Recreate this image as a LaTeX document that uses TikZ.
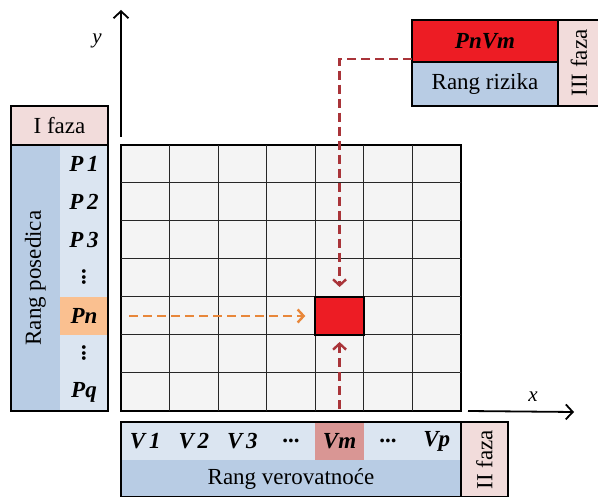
\documentclass[tikz,border=0pt]{standalone}
\usepackage{fontspec}
\setmainfont{Liberation Serif}
\usetikzlibrary{arrows.meta, positioning, calc}
\definecolor{fazapink}{HTML}{F2DCDB}
\definecolor{rangdark}{HTML}{B8CCE4}
\definecolor{ranglight}{HTML}{DBE5F1}
\definecolor{riskred}{HTML}{ED1C24}
\definecolor{pnorange}{HTML}{FAC090}
\definecolor{vmsalmon}{HTML}{D99694}
\definecolor{cellgray}{HTML}{F4F4F4}
\definecolor{dashred}{HTML}{A93439}
\definecolor{dashorange}{HTML}{E8873A}
\newcommand{\labelfont}{\fontsize{23}{26}\selectfont}
\tikzset{
  fazabox/.style={draw, line width=1.8pt, fill=fazapink, inner sep=0pt, outer sep=0pt, font=\labelfont},
  rangbox/.style={inner sep=0pt, outer sep=0pt, font=\labelfont},
  rangcell/.style={inner sep=0pt, outer sep=0pt, font=\labelfont\bfseries\itshape,
    minimum width=48.6pt, minimum height=38pt},
  gridline/.style={line width=1pt, black!85},
  axisarrow/.style={-{Straight Barb[length=7pt, width=15pt]}, line width=1.8pt},
  dasharrow/.style={-{Straight Barb[length=6pt, width=13pt]}, line width=2.4pt, dash pattern=on 9pt off 5pt},
  axislabel/.style={font=\fontsize{21}{23}\selectfont\itshape},
}
\newcommand{\vdotsb}{\rotatebox{-90}{\bfseries ...}}
\newcommand{\hdotsb}{\bfseries\upshape ...}

\begin{document}
\begin{tikzpicture}[x=1pt, y=-1pt]
  \useasboundingbox (0,0) rectangle (598,497);
  \clip (0,0) rectangle (598,497);

  % === Matrix ===
  \node[draw, line width=1.8pt, fill=cellgray, inner sep=0pt, outer sep=0pt,
    minimum width=340pt, minimum height=266pt] (grid) at (291,278) {};
  \foreach \i in {1,...,6} {
    \draw[gridline] (121+\i*48.57,145) -- (121+\i*48.57,411);
    \draw[gridline] (121,145+\i*38) -- (461,145+\i*38);
  }
  \node[draw, line width=1.8pt, fill=riskred, rangcell] (riskcell) at (339.6,316) {};

  % === Axes ===
  \coordinate (ytip) at (121,10);
  \coordinate (xtip) at (574,412);
  \draw[axisarrow] ([yshift=8pt]grid.north west) -- (ytip);
  \draw[axisarrow] ([xshift=7pt]grid.south east) -- (xtip);
  \node[axislabel] (ylabel) at (97,41) {y};
  \node[axislabel] (xlabel) at (533,397) {x};

  % === I faza ===
  \node[fazabox, minimum width=97pt, minimum height=39pt] (ifaza) at (59.5,125.5) {I faza};
  \node[rangbox, fill=ranglight, minimum width=97pt, minimum height=266pt] (posedica) at (59.5,278) {};
  \node[rangbox, fill=rangdark, rotate=90, minimum width=266pt, minimum height=49pt] (rangpos) at (35.5,278) {Rang posedica};
  \node[rangcell] (p1) at (84,164) {P\,1};
  \node[rangcell] (p2) at (84,202) {P\,2};
  \node[rangcell] (p3) at (84,240) {P\,3};
  \node[rangcell] (pdots1) at (84,278) {\vdotsb};
  \node[rangcell, fill=pnorange] (pn) at (84,316) {Pn};
  \node[rangcell] (pdots2) at (84,354) {\vdotsb};
  \node[rangcell] (pq) at (84,392) {Pq};
  \draw[line width=1.8pt] (posedica.north west) rectangle (posedica.south east);

  % === II faza ===
  \node[rangbox, fill=ranglight, minimum width=340pt, minimum height=38pt] (vrow) at (291,441) {};
  \node[rangbox, fill=rangdark, minimum width=340pt, minimum height=37pt] (verovatnoce) at (291,478.5) {Rang verovatnoće};
  \node[rangcell, fill=vmsalmon] at (339.6,441) {};
  \foreach \name/\txt [count=\k] in {v1/V\,1, v2/V\,2, v3/V\,3, vdots1/\hdotsb, vm/Vm, vdots2/\hdotsb, vp/Vp} {
    \node[rangcell] (\name) at (96.7+\k*48.57,441) {\txt};
  }
  \draw[line width=1.8pt] (vrow.north west) rectangle (verovatnoce.south east);
  \node[fazabox, rotate=90, minimum width=75pt, minimum height=47pt] (iifaza) at (484.5,459.5) {II faza};

  % === III faza ===
  \node[draw, line width=1.8pt, fill=riskred, rangcell, minimum width=146pt, minimum height=42pt] (pnvm) at (485,41) {PnVm};
  \node[draw, line width=1.8pt, rangbox, fill=rangdark, minimum width=146pt, minimum height=44pt] (rizika) at (485,84) {Rang rizika};
  \node[fazabox, rotate=90, minimum width=86pt, minimum height=42pt] (iiifaza) at (579,63) {III faza};

  % === Arrows ===
  \draw[dasharrow, dashred, shorten >=10pt] ([yshift=3pt]pnvm.south west) -| (riskcell.north);
  \draw[dasharrow, dashred, shorten <=2pt, shorten >=7pt] (riskcell.south |- grid.south) -- (riskcell.south);
  \draw[dasharrow, dashorange, shorten <=8pt, shorten >=10pt] (grid.west |- pn) -- (riskcell.west);
\end{tikzpicture}
\end{document}
